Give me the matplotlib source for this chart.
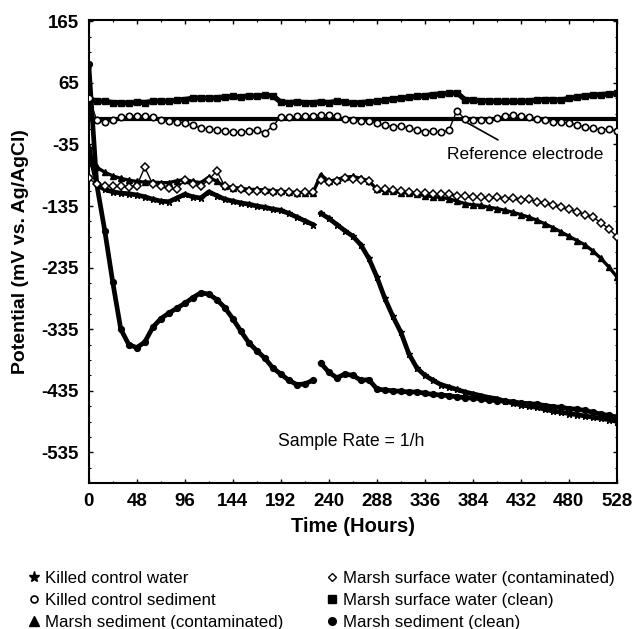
import numpy as np
import matplotlib
matplotlib.use("Agg")
import matplotlib.pyplot as plt
from matplotlib.lines import Line2D

hours = list(range(0, 529, 8))

surface_clean = [38, 36, 35, 33, 33, 32, 34, 33, 35, 36, 35, 37, 38, 40, 41, 40, 41, 42, 43, 42,
                 44, 43, 45, 44, 34, 33, 34, 33, 33, 34, 33, 35, 34, 32, 33, 34, 35, 37, 39, 40,
                 42, 43, 44, 46, 47, 48, 49, 38, 37, 36, 36, 35, 35, 35, 35, 36, 37, 38, 38, 37,
                 40, 42, 44, 45, 46, 47, 48]

killed_sediment = [40, 5, 1, 4, 9, 11, 12, 12, 9, 4, 3, 2, 0, -4, -8, -10, -11, -13, -15, -15,
                   -13, -12, -16, -5, 10, 9, 11, 11, 12, 13, 13, 11, 7, 4, 3, 3, 0, -4, -6, -5,
                   -8, -12, -14, -13, -15, -12, 20, 6, 4, 5, 5, 8, 12, 13, 11, 10, 7, 4, 2, 1,
                   0, -3, -7, -9, -11, -10, -13]

sediment_contam = [-65, -72, -80, -86, -90, -93, -95, -96, -96, -97, -97, -94, -92, -95, -97, -88,
                   -95, -103, -105, -106, -108, -108, -109, -110, -111, -112, -113, -113, -114,
                   -84, -95, -92, -88, -87, -90, -94, -108, -110, -111, -113, -114, -116, -118,
                   -120, -121, -123, -127, -131, -133, -134, -137, -139, -142, -145, -149, -153,
                   -158, -164, -170, -177, -184, -191, -198, -208, -220, -234, -250]

surface_contam = [-90, -100, -103, -103, -102, -104, -102, -72, -100, -103, -106, -108, -92, -100,
                  -103, -92, -78, -103, -106, -108, -110, -111, -111, -112, -112, -112, -113,
                  -112, -112, -92, -96, -94, -90, -91, -93, -95, -107, -108, -109, -111, -112,
                  -113, -114, -115, -116, -116, -118, -119, -120, -121, -122, -121, -123, -122,
                  -125, -124, -128, -130, -133, -137, -140, -144, -149, -153, -162, -172, -185]

killed_water = [-40, -100, -108, -112, -114, -115, -117, -120, -124, -127, -128, -122, -116, -120,
                -122, -112, -118, -124, -127, -130, -132, -135, -137, -140, -142, -147, -153,
                -159, -165, -147, -155, -165, -175, -184, -198, -220, -250, -285, -314, -340,
                -375, -398, -410, -418, -425, -429, -433, -437, -440, -443, -446, -448, -452,
                -455, -458, -460, -462, -465, -468, -470, -472, -474, -476, -478, -480, -482, -485]

sediment_clean = [95, -100, -175, -259, -335, -360, -365, -356, -332, -318, -309, -301, -293, -284,
                  -276, -278, -287, -300, -318, -338, -357, -370, -382, -398, -408, -418, -425,
                  -424, -418, -390, -405, -414, -408, -410, -418, -417, -432, -434, -435, -436,
                  -437, -437, -439, -441, -442, -443, -445, -446, -447, -448, -450, -451, -452,
                  -453, -455, -456, -457, -459, -461, -462, -464, -465, -467, -470, -473, -475, -478]

reference_level = 7
gap_hour = 228

labels = ["Killed control water", "Killed control sediment", "Marsh sediment (contaminated)",
          "Marsh surface water (contaminated)", "Marsh surface water (clean)", "Marsh sediment (clean)"]

x_ticks = list(range(0, 529, 48))
y_ticks = [165, 65, -35, -135, -235, -335, -435, -535]

FONT = "Liberation Sans"
plt.rcParams['font.family'] = [FONT, 'DejaVu Sans']

fig = plt.figure(figsize=(6.34, 6.29), dpi=100)
ax = fig.add_axes([0.140, 0.232, 0.833, 0.736])


def with_gap(xs, ys, g):
    xs = list(xs)
    ys = list(ys)
    i = next(k for k, v in enumerate(xs) if v > g)
    xs.insert(i, g)
    ys.insert(i, np.nan)
    return xs, ys


# reference electrode
ax.axhline(reference_level, color="black", lw=3, zorder=2)

ax.plot(hours, surface_clean, color="black", lw=3.8, marker="s", ms=4, zorder=3)
ax.plot(hours, killed_sediment, color="black", lw=1.0, marker="o", ms=4.6, mfc="white",
        mew=1.2, zorder=4)
ax.plot(hours, sediment_contam, color="black", lw=2.4, marker="^", ms=4.5, zorder=3)
ax.plot(hours, surface_contam, color="black", lw=1.0, marker="D", ms=3.8, mfc="white",
        mew=1.1, zorder=4)
xw, yw = with_gap(hours, killed_water, gap_hour)
ax.plot(xw, yw, color="black", lw=3.4, marker="*", ms=4.5, zorder=3)
xc, yc = with_gap(hours, sediment_clean, gap_hour)
ax.plot(xc, yc, color="black", lw=3.4, marker="o", ms=4.2, zorder=3)

ax.set_xlim(0, 528)
ax.set_ylim(-585, 167)
ax.set_xticks(x_ticks)
ax.set_yticks(y_ticks)
ax.set_xticklabels([str(v) for v in x_ticks], fontsize=13.5, fontweight="bold")
ax.set_yticklabels([str(v) for v in y_ticks], fontsize=13.5, fontweight="bold")
ax.tick_params(direction="in", length=3, width=1, top=True, right=True, pad=7)
ax.set_xticks(list(range(24, 528, 48)), minor=True)
ax.set_yticks(list(range(-560, 166, 25)), minor=True)
ax.tick_params(which="minor", direction="in", length=1.5, width=0.8, top=True, right=True)
for s in ax.spines.values():
    s.set_linewidth(1.5)

ax.set_xlabel("Time (Hours)", fontsize=14.5, fontweight="bold", labelpad=5)
ax.set_ylabel("Potential (mV vs. Ag/AgCl)", fontsize=14, fontweight="bold", labelpad=9)

ax.annotate("Reference electrode", xy=(371, reference_level), xytext=(436, -52),
            ha="center", va="center", fontsize=12.5,
            arrowprops=dict(arrowstyle="-", color="black", lw=1.2, shrinkA=7, shrinkB=0))
ax.text(262, -517, "Sample Rate = 1/h", ha="center", va="center", fontsize=12.7)

handles = [
    Line2D([], [], ls="none", marker="*", ms=8, color="black"),
    Line2D([], [], ls="none", marker="o", ms=5, mfc="white", mec="black", mew=1.2),
    Line2D([], [], ls="none", marker="^", ms=6.5, color="black"),
    Line2D([], [], ls="none", marker="D", ms=4.5, mfc="white", mec="black", mew=1.0),
    Line2D([], [], ls="none", marker="s", ms=5.5, color="black"),
    Line2D([], [], ls="none", marker="o", ms=5.5, color="black"),
]
fig.legend(handles, labels, ncol=2, loc="upper left", bbox_to_anchor=(0.045, 0.093),
           frameon=False, fontsize=12.2, handlelength=0.6, handletextpad=0.35,
           columnspacing=2.6, labelspacing=0.42, borderaxespad=0, borderpad=0)

fig.savefig("out.png", dpi=100)
